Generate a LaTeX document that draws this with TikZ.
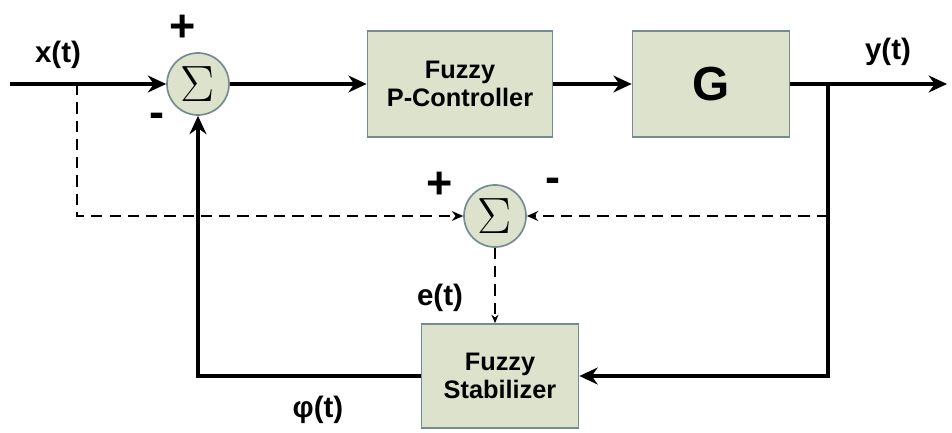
\documentclass[tikz,border=0pt]{standalone}
\usepackage{fontspec}
\setmainfont{Liberation Sans}
\usepackage{xcolor}
\usetikzlibrary{arrows.meta}
\definecolor{boxfill}{RGB}{220,226,203}
\definecolor{boxline}{RGB}{118,138,146}

\begin{document}
\begin{tikzpicture}[x=0.025cm, y=-0.025cm,
        block/.style={draw=boxline, line width=1.2pt, fill=boxfill, align=center,
            font=\bfseries\fontsize{18}{20}\selectfont, inner sep=0pt},
        summer/.style={circle, draw=boxline, line width=1.2pt, fill=boxfill,
            minimum size=1.55cm, inner sep=0pt, font=\fontsize{22}{24}\selectfont},
        sig/.style={font=\bfseries\fontsize{21}{24}\selectfont},
        sign/.style={font=\bfseries\fontsize{32}{34}\selectfont},
        wire/.style={line width=2.8pt, -{Stealth[length=13pt,width=12pt]}},
        dwire/.style={line width=1.5pt, dash pattern=on 8pt off 5pt, -{Stealth[length=8pt,width=7pt]}}]
        \useasboundingbox (0,0) rectangle (952,433);

        % Forward path
        \coordinate (in) at (10,84);
        \coordinate (xb) at (77,84);
        \node[summer] (sum1) at (198,84) {\scalebox{1.75}{$\Sigma$}};
        \node[block, minimum width=4.625cm, minimum height=2.65cm] (ctrl) at (460,84) {Fuzzy\\P-Controller};
        \node[block, minimum width=3.925cm, minimum height=2.65cm,
            font=\bfseries\fontsize{34}{36}\selectfont] (plant) at (711,84) {G};
        \coordinate (yb) at (828,84);
        \coordinate (out) at (947,84);

        % Stabilizer path
        \node[summer] (sum2) at (495,216) {\scalebox{1.75}{$\Sigma$}};
        \node[block, minimum width=3.925cm, minimum height=2.6cm] (stab) at (500,376) {Fuzzy\\Stabilizer};

        % Labels
        \node[sig] (xlab) at (58,55) {x(t)};
        \node[sig] (ylab) at (888,52) {y(t)};
        \node[sign] (p1) at (183,28) {+};
        \node[sign] (m1) at (157,120) {-};
        \node[sign] (p2) at (440,185) {+};
        \node[sign] (m2) at (553,185) {-};
        \node[sig] (elab) at (440,298) {e(t)};
        \node[sig] (flab) at (318,410) {φ(t)};

        % Solid connectors
        \draw[wire] (in) -- (sum1);
        \draw[wire] (sum1) -- (ctrl);
        \draw[wire] (ctrl) -- (plant);
        \draw[wire] (plant) -- (out);
        \draw[wire] (yb) |- (stab);
        \draw[wire] (stab) -| (sum1);

        % Dashed connectors
        \draw[dwire] (xb) |- (sum2);
        \draw[dwire] (yb |- sum2) -- (sum2);
        \draw[dwire, line width=1pt, -{Stealth[length=6pt,width=5pt]}] (sum2) -- (sum2 |- stab.north);
    \end{tikzpicture}
\end{document}
